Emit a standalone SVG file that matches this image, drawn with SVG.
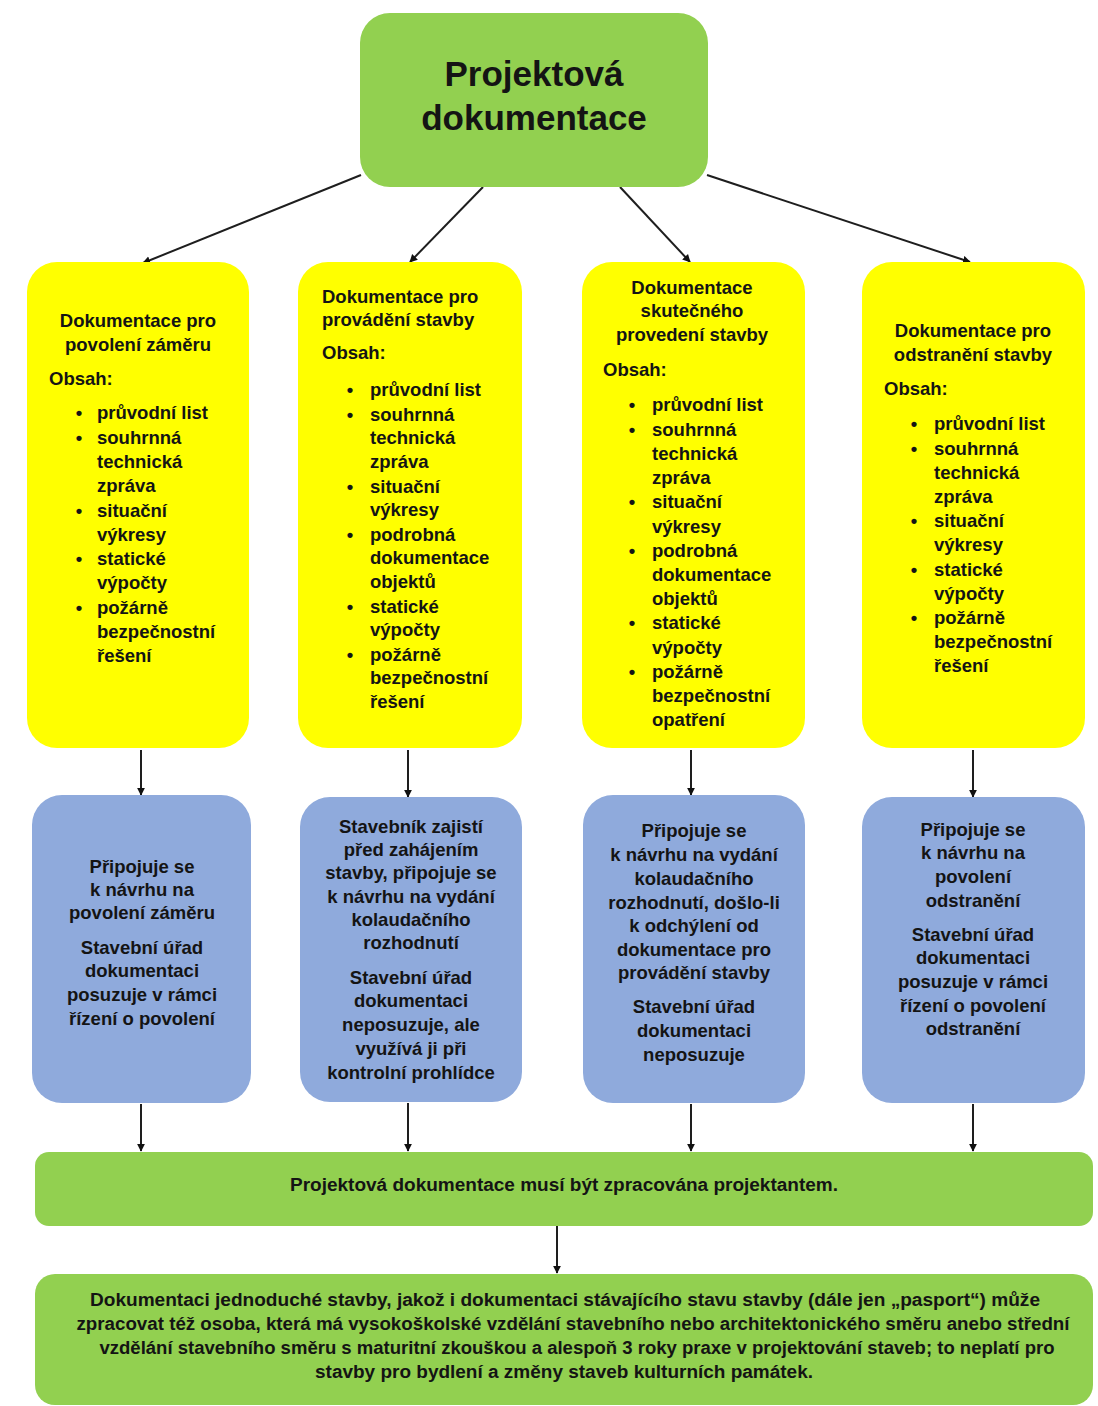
<svg xmlns="http://www.w3.org/2000/svg" width="1098" height="1406" viewBox="0 0 1098 1406">
  <defs>
    <marker id="arr" viewBox="0 0 10 10" refX="9" refY="5" markerWidth="8" markerHeight="9" orient="auto" markerUnits="userSpaceOnUse">
      <path d="M0,0 L10,5 L0,10 z" fill="#111"/>
    </marker>
    <style>
      .yel { fill: #FFFF00; }
      .blu { fill: #8FAADC; }
      .grn { fill: #92D050; }
      text { font-family: "Liberation Sans", Arial, sans-serif; font-weight: bold; fill: #141414; }
      .t { font-size: 18.5px; }
      .c { text-anchor: middle; }
      .big { font-size: 35px; text-anchor: middle; }
      .s { font-size: 17.5px; text-anchor: middle; }
      .conn line { stroke: #1e1e1e; stroke-width: 2; marker-end: url(#arr); }
    </style>
  </defs>
  <rect width="1098" height="1406" fill="#ffffff"/>

  <!-- connectors -->
  <g id="connectors" class="conn">
    <line x1="361" y1="175" x2="143" y2="263"/>
    <line x1="483" y1="187" x2="410" y2="262"/>
    <line x1="620" y1="187" x2="690" y2="262"/>
    <line x1="707" y1="175" x2="970" y2="262"/>
    <line x1="141" y1="750" x2="141" y2="795"/>
    <line x1="408" y1="750" x2="408" y2="797"/>
    <line x1="691" y1="750" x2="691" y2="795"/>
    <line x1="973" y1="750" x2="973" y2="797"/>
    <line x1="141" y1="1104" x2="141" y2="1151"/>
    <line x1="408" y1="1103" x2="408" y2="1151"/>
    <line x1="691" y1="1104" x2="691" y2="1151"/>
    <line x1="973" y1="1104" x2="973" y2="1151"/>
    <line x1="557" y1="1226" x2="557" y2="1273"/>
  </g>

  <!-- root node -->
  <g id="root">
    <rect class="grn" x="360" y="13" width="348" height="174" rx="30"/>
    <text class="big" x="534" y="86">Projektová</text>
    <text class="big" x="534" y="130">dokumentace</text>
  </g>

  <!-- documentation types -->
  <g id="doc-povoleni">
    <rect class="yel" x="27" y="262" width="222" height="486" rx="30"/>
    <text class="t c" x="138" y="327">Dokumentace pro</text>
    <text class="t c" x="138" y="351">povolení záměru</text>
    <text class="t" x="49" y="385">Obsah:</text>
    <g class="t">
      <text class="c" x="79" y="419">•</text><text x="97" y="419">průvodní list</text>
      <text class="c" x="79" y="444">•</text><text x="97" y="444">souhrnná</text>
      <text x="97" y="468">technická</text>
      <text x="97" y="492">zpráva</text>
      <text class="c" x="79" y="517">•</text><text x="97" y="517">situační</text>
      <text x="97" y="541">výkresy</text>
      <text class="c" x="79" y="565">•</text><text x="97" y="565">statické</text>
      <text x="97" y="589">výpočty</text>
      <text class="c" x="79" y="614">•</text><text x="97" y="614">požárně</text>
      <text x="97" y="638">bezpečnostní</text>
      <text x="97" y="662">řešení</text>
    </g>
  </g>

  <g id="doc-provadeni">
    <rect class="yel" x="298" y="262" width="224" height="486" rx="30"/>
    <text class="t" x="322" y="303">Dokumentace pro</text>
    <text class="t" x="322" y="326">provádění stavby</text>
    <text class="t" x="322" y="359">Obsah:</text>
    <g class="t">
      <text class="c" x="350" y="396">•</text><text x="370" y="396">průvodní list</text>
      <text class="c" x="350" y="421">•</text><text x="370" y="421">souhrnná</text>
      <text x="370" y="444">technická</text>
      <text x="370" y="468">zpráva</text>
      <text class="c" x="350" y="493">•</text><text x="370" y="493">situační</text>
      <text x="370" y="516">výkresy</text>
      <text class="c" x="350" y="541">•</text><text x="370" y="541">podrobná</text>
      <text x="370" y="564">dokumentace</text>
      <text x="370" y="588">objektů</text>
      <text class="c" x="350" y="613">•</text><text x="370" y="613">statické</text>
      <text x="370" y="636">výpočty</text>
      <text class="c" x="350" y="661">•</text><text x="370" y="661">požárně</text>
      <text x="370" y="684">bezpečnostní</text>
      <text x="370" y="708">řešení</text>
    </g>
  </g>

  <g id="doc-skutecne">
    <rect class="yel" x="582" y="262" width="223" height="486" rx="30"/>
    <text class="t c" x="692" y="294">Dokumentace</text>
    <text class="t c" x="692" y="317">skutečného</text>
    <text class="t c" x="692" y="341">provedení stavby</text>
    <text class="t" x="603" y="376">Obsah:</text>
    <g class="t">
      <text class="c" x="632" y="411">•</text><text x="652" y="411">průvodní list</text>
      <text class="c" x="632" y="436">•</text><text x="652" y="436">souhrnná</text>
      <text x="652" y="460">technická</text>
      <text x="652" y="484">zpráva</text>
      <text class="c" x="632" y="508">•</text><text x="652" y="508">situační</text>
      <text x="652" y="533">výkresy</text>
      <text class="c" x="632" y="557">•</text><text x="652" y="557">podrobná</text>
      <text x="652" y="581">dokumentace</text>
      <text x="652" y="605">objektů</text>
      <text class="c" x="632" y="629">•</text><text x="652" y="629">statické</text>
      <text x="652" y="654">výpočty</text>
      <text class="c" x="632" y="678">•</text><text x="652" y="678">požárně</text>
      <text x="652" y="702">bezpečnostní</text>
      <text x="652" y="726">opatření</text>
    </g>
  </g>

  <g id="doc-odstraneni">
    <rect class="yel" x="862" y="262" width="223" height="486" rx="30"/>
    <text class="t c" x="973" y="337">Dokumentace pro</text>
    <text class="t c" x="973" y="361">odstranění stavby</text>
    <text class="t" x="884" y="395">Obsah:</text>
    <g class="t">
      <text class="c" x="914" y="430">•</text><text x="934" y="430">průvodní list</text>
      <text class="c" x="914" y="455">•</text><text x="934" y="455">souhrnná</text>
      <text x="934" y="479">technická</text>
      <text x="934" y="503">zpráva</text>
      <text class="c" x="914" y="527">•</text><text x="934" y="527">situační</text>
      <text x="934" y="551">výkresy</text>
      <text class="c" x="914" y="576">•</text><text x="934" y="576">statické</text>
      <text x="934" y="600">výpočty</text>
      <text class="c" x="914" y="624">•</text><text x="934" y="624">požárně</text>
      <text x="934" y="648">bezpečnostní</text>
      <text x="934" y="672">řešení</text>
    </g>
  </g>

  <!-- procedure notes -->
  <g id="note-povoleni">
    <rect class="blu" x="32" y="795" width="219" height="308" rx="30"/>
    <g class="t c">
      <text x="142" y="873">Připojuje se</text>
      <text x="142" y="896">k návrhu na</text>
      <text x="142" y="919">povolení záměru</text>
      <text x="142" y="954">Stavební úřad</text>
      <text x="142" y="977">dokumentaci</text>
      <text x="142" y="1001">posuzuje v rámci</text>
      <text x="142" y="1025">řízení o povolení</text>
    </g>
  </g>

  <g id="note-provadeni">
    <rect class="blu" x="300" y="797" width="222" height="305" rx="30"/>
    <g class="t c">
      <text x="411" y="833">Stavebník zajistí</text>
      <text x="411" y="856">před zahájením</text>
      <text x="411" y="879">stavby, připojuje se</text>
      <text x="411" y="903">k návrhu na vydání</text>
      <text x="411" y="926">kolaudačního</text>
      <text x="411" y="949">rozhodnutí</text>
      <text x="411" y="984">Stavební úřad</text>
      <text x="411" y="1007">dokumentaci</text>
      <text x="411" y="1031">neposuzuje, ale</text>
      <text x="411" y="1055">využívá ji při</text>
      <text x="411" y="1079">kontrolní prohlídce</text>
    </g>
  </g>

  <g id="note-skutecne">
    <rect class="blu" x="583" y="795" width="222" height="308" rx="30"/>
    <g class="t c">
      <text x="694" y="837">Připojuje se</text>
      <text x="694" y="861">k návrhu na vydání</text>
      <text x="694" y="885">kolaudačního</text>
      <text x="694" y="909">rozhodnutí, došlo-li</text>
      <text x="694" y="932">k odchýlení od</text>
      <text x="694" y="956">dokumentace pro</text>
      <text x="694" y="979">provádění stavby</text>
      <text x="694" y="1013">Stavební úřad</text>
      <text x="694" y="1037">dokumentaci</text>
      <text x="694" y="1061">neposuzuje</text>
    </g>
  </g>

  <g id="note-odstraneni">
    <rect class="blu" x="862" y="797" width="223" height="306" rx="30"/>
    <g class="t c">
      <text x="973" y="836">Připojuje se</text>
      <text x="973" y="859">k návrhu na</text>
      <text x="973" y="883">povolení</text>
      <text x="973" y="907">odstranění</text>
      <text x="973" y="941">Stavební úřad</text>
      <text x="973" y="964">dokumentaci</text>
      <text x="973" y="988">posuzuje v rámci</text>
      <text x="973" y="1012">řízení o povolení</text>
      <text x="973" y="1035">odstranění</text>
    </g>
  </g>

  <!-- common requirement -->
  <g id="projektant">
    <rect class="grn" x="35" y="1152" width="1058" height="74" rx="14"/>
    <text class="s" x="564" y="1191" textLength="548" lengthAdjust="spacingAndGlyphs">Projektová dokumentace musí být zpracována projektantem.</text>
  </g>

  <g id="pasport">
    <rect class="grn" x="35" y="1274" width="1058" height="131" rx="20"/>
    <text class="s" x="565" y="1306" textLength="950" lengthAdjust="spacingAndGlyphs">Dokumentaci jednoduché stavby, jakož i dokumentaci stávajícího stavu stavby (dále jen „pasport“) může</text>
    <text class="s" x="573" y="1330" textLength="993" lengthAdjust="spacingAndGlyphs">zpracovat též osoba, která má vysokoškolské vzdělání stavebního nebo architektonického směru anebo střední</text>
    <text class="s" x="577" y="1354" textLength="955" lengthAdjust="spacingAndGlyphs">vzdělání stavebního směru s maturitní zkouškou a alespoň 3 roky praxe v projektování staveb; to neplatí pro</text>
    <text class="s" x="564" y="1378" textLength="498" lengthAdjust="spacingAndGlyphs">stavby pro bydlení a změny staveb kulturních památek.</text>
  </g>
</svg>
